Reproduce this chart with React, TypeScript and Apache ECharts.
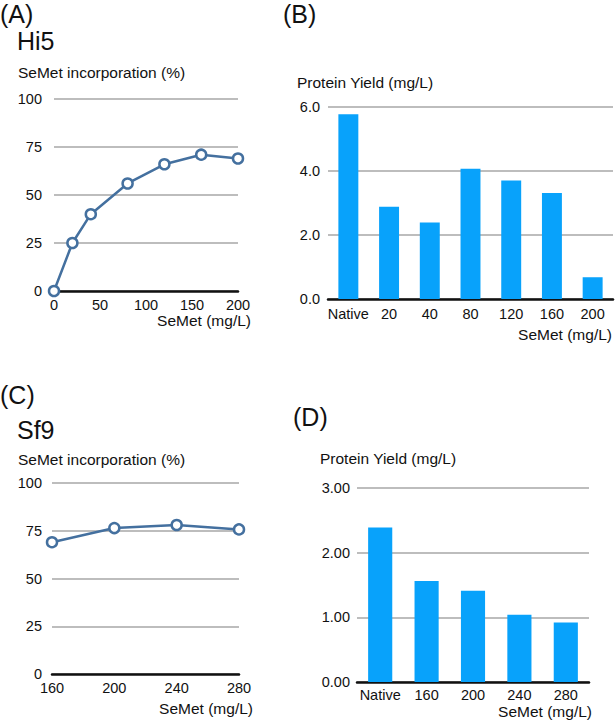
import React, { useEffect, useRef } from "react";
import * as echarts from "echarts";

// Panel A: Hi5 SeMet incorporation
const hi5Conc = [0, 20, 40, 80, 120, 160, 200];
const hi5Incorp = [0, 25, 40, 56, 66, 71, 69];
// Panel B: Hi5 protein yield
const hi5YieldCats = ["Native", "20", "40", "80", "120", "160", "200"];
const hi5Yield = [5.77, 2.88, 2.39, 4.07, 3.7, 3.31, 0.68];
// Panel C: Sf9 SeMet incorporation
const sf9Conc = [160, 200, 240, 280];
const sf9Incorp = [69, 76.4, 78, 75.7];
// Panel D: Sf9 protein yield
const sf9YieldCats = ["Native", "160", "200", "240", "280"];
const sf9Yield = [2.39, 1.56, 1.41, 1.04, 0.92];

const FONT = "'Liberation Sans', Arial, Helvetica, sans-serif";
const TXT = "#111";
const GRID_COLOR = "#bdbdbd";
const LINE_COLOR = "#44709f";
const BAR_COLOR = "#08a2fb";

export default function App() {
  const ref = useRef<HTMLDivElement>(null);
  useEffect(() => {
    if (!ref.current) return;
    const chart = echarts.init(ref.current, undefined, { renderer: "svg" });

    const splitLine = { show: true, lineStyle: { color: GRID_COLOR, width: 2 } };
    const xAxisLine = { show: true, lineStyle: { color: "#111", width: 2.5 } };
    const lbl = (margin: number, extra: any = {}) => ({
      color: TXT,
      fontSize: 14.5,
      fontFamily: FONT,
      margin,
      ...extra,
    });

    const text = (
      x: number,
      y: number,
      t: string,
      size: number,
      align: string = "left"
    ) => ({
      type: "text",
      x,
      y,
      style: {
        text: t,
        fontSize: size,
        fontFamily: FONT,
        fill: TXT,
        align,
        verticalAlign: "middle",
      },
    });

    chart.setOption({
      animation: false,
      backgroundColor: "#fff",
      grid: [
        { left: 54, top: 99, width: 184, height: 192 },
        { left: 328, top: 107, width: 285, height: 192 },
        { left: 52, top: 483, width: 187, height: 191 },
        { left: 357, top: 488, width: 232, height: 194 },
      ],
      xAxis: [
        {
          gridIndex: 0,
          type: "value",
          min: 0,
          max: 200,
          interval: 50,
          axisLine: xAxisLine,
          axisTick: { show: false },
          splitLine: { show: false },
          axisLabel: lbl(6),
        },
        {
          gridIndex: 1,
          type: "category",
          data: hi5YieldCats,
          axisLine: xAxisLine,
          axisTick: { show: false },
          axisLabel: lbl(7, { interval: 0 }),
        },
        {
          gridIndex: 2,
          type: "value",
          min: 160,
          max: 280,
          interval: 40,
          axisLine: xAxisLine,
          axisTick: { show: false },
          splitLine: { show: false },
          axisLabel: lbl(6),
        },
        {
          gridIndex: 3,
          type: "category",
          data: sf9YieldCats,
          axisLine: xAxisLine,
          axisTick: { show: false },
          axisLabel: lbl(5, { interval: 0 }),
        },
      ],
      yAxis: [
        {
          gridIndex: 0,
          type: "value",
          min: 0,
          max: 100,
          interval: 25,
          axisLine: { show: false },
          axisTick: { show: false },
          splitLine,
          axisLabel: lbl(12),
        },
        {
          gridIndex: 1,
          type: "value",
          min: 0,
          max: 6,
          interval: 2,
          axisLine: { show: false },
          axisTick: { show: false },
          splitLine,
          axisLabel: lbl(8, { formatter: (v: number) => v.toFixed(1) }),
        },
        {
          gridIndex: 2,
          type: "value",
          min: 0,
          max: 100,
          interval: 25,
          axisLine: { show: false },
          axisTick: { show: false },
          splitLine,
          axisLabel: lbl(10),
        },
        {
          gridIndex: 3,
          type: "value",
          min: 0,
          max: 3,
          interval: 1,
          axisLine: { show: false },
          axisTick: { show: false },
          splitLine,
          axisLabel: lbl(7, { formatter: (v: number) => v.toFixed(2) }),
        },
      ],
      series: [
        {
          type: "line",
          xAxisIndex: 0,
          yAxisIndex: 0,
          data: hi5Conc.map((c, i) => [c, hi5Incorp[i]]),
          symbol: "circle",
          symbolSize: 10,
          lineStyle: { color: LINE_COLOR, width: 2.5 },
          itemStyle: { color: "#fff", borderColor: LINE_COLOR, borderWidth: 2.5 },
          z: 5,
        },
        {
          type: "bar",
          xAxisIndex: 1,
          yAxisIndex: 1,
          data: hi5Yield,
          barWidth: "49%",
          itemStyle: { color: BAR_COLOR },
        },
        {
          type: "line",
          xAxisIndex: 2,
          yAxisIndex: 2,
          data: sf9Conc.map((c, i) => [c, sf9Incorp[i]]),
          symbol: "circle",
          symbolSize: 10,
          lineStyle: { color: LINE_COLOR, width: 2.5 },
          itemStyle: { color: "#fff", borderColor: LINE_COLOR, borderWidth: 2.5 },
          z: 5,
        },
        {
          type: "bar",
          xAxisIndex: 3,
          yAxisIndex: 3,
          data: sf9Yield,
          barWidth: "52%",
          itemStyle: { color: BAR_COLOR },
        },
      ],
      graphic: [
        text(0, 14, "(A)", 25),
        text(17, 41, "Hi5", 25),
        text(18, 72, "SeMet incorporation (%)", 15.5),
        text(251, 320, "SeMet (mg/L)", 15.5, "right"),
        text(283, 14, "(B)", 25),
        text(297, 82, "Protein Yield (mg/L)", 15.5),
        text(612, 334, "SeMet (mg/L)", 15.5, "right"),
        text(0, 395, "(C)", 25),
        text(17, 430, "Sf9", 25),
        text(18, 459, "SeMet incorporation (%)", 15.5),
        text(253, 708, "SeMet (mg/L)", 15.5, "right"),
        text(293, 417, "(D)", 25),
        text(320, 458, "Protein Yield (mg/L)", 15.5),
        text(592, 711, "SeMet (mg/L)", 15.5, "right"),
      ],
    });
    return () => chart.dispose();
  }, []);

  return (
    <div
      ref={ref}
      style={{ position: "fixed", left: 0, top: 0, width: 615, height: 721 }}
    />
  );
}
